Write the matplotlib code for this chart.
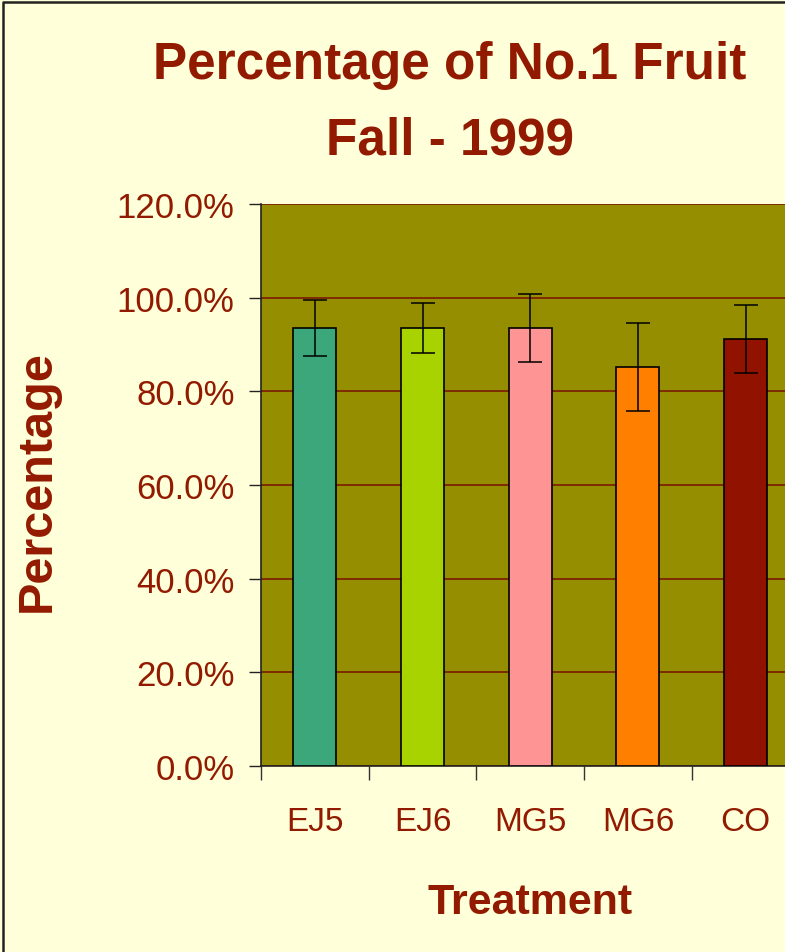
import matplotlib.pyplot as plt
from matplotlib.ticker import FuncFormatter
from matplotlib.lines import Line2D
import numpy as np

treatments = ['EJ5', 'EJ6', 'MG5', 'MG6', 'CO']
pct = [93.5, 93.5, 93.5, 85.1, 91.2]
err = [6.0, 5.3, 7.2, 9.4, 7.2]
bar_colors = ['#3da77c', '#a8d300', '#ff9494', '#ff7f00', '#921200']

text_col = '#921a00'
bg = '#ffffd9'
plot_bg = '#948e00'

plt.rcParams['font.family'] = ['Liberation Sans', 'DejaVu Sans']

fig = plt.figure(figsize=(7.85, 9.53), dpi=100, facecolor=bg)
W, H = 785, 953
x0, x1 = 261, 261 + 5 * 107.7
y0, y1 = 767, 205
ax = fig.add_axes([x0 / W, 1 - y0 / H, (x1 - x0) / W, (y0 - y1) / H])
ax.set_facecolor(plot_bg)

x = np.arange(len(treatments)) + 0.5
ax.bar(x, pct, width=0.4, color=bar_colors, edgecolor='black', linewidth=1.2, zorder=3)
ax.errorbar(x, pct, yerr=err, fmt='none', ecolor='black', elinewidth=1.1,
            capsize=8.5, capthick=1.1, zorder=4)

ax.set_xlim(0, 5)
ax.set_ylim(0, 120)
ax.set_yticks(np.arange(0, 121, 20))
ax.yaxis.set_major_formatter(FuncFormatter(lambda v, p: f'{v:.1f}%'))
ax.grid(axis='y', color='#7a1a00', linewidth=1.2, zorder=1)
ax.set_axisbelow(True)

ax.set_xticks(np.arange(0, 6))
ax.set_xticklabels([])
ax.set_xticks(x, minor=True)
ax.set_xticklabels(treatments, minor=True)
ax.tick_params(axis='x', which='major', direction='out', length=10, width=1, color='#333333')
ax.tick_params(axis='x', which='minor', length=0, pad=29, labelsize=24, labelcolor=text_col)
ax.tick_params(axis='y', direction='out', length=9, width=1, color='#222222',
               labelsize=25, labelcolor=text_col, pad=10)

for s in ['top', 'right']:
    ax.spines[s].set_visible(False)
for s in ['left', 'bottom']:
    ax.spines[s].set_color('#222222')
    ax.spines[s].set_linewidth(1.2)

ax.set_xlabel('Treatment', fontsize=31, fontweight='bold', color=text_col, labelpad=32)

fig.text(37 / W, 1 - 481 / H, 'Percentage', rotation=90, ha='center', va='center',
         fontsize=35, fontweight='bold', color=text_col)

fig.text(450 / W, 1 - 66 / H, 'Percentage of No.1 Fruit', ha='center', va='center',
         fontsize=37, fontweight='bold', color=text_col)
fig.text(450 / W, 1 - 141 / H, 'Fall - 1999', ha='center', va='center',
         fontsize=37, fontweight='bold', color=text_col)

# frame: left and top edges only
fig.add_artist(Line2D([2.5 / W, 2.5 / W, 1], [0, 1 - 2.5 / H, 1 - 2.5 / H],
                      transform=fig.transFigure, color='#222222', linewidth=1.8))

fig.savefig('out.png', dpi=100, facecolor=bg)
